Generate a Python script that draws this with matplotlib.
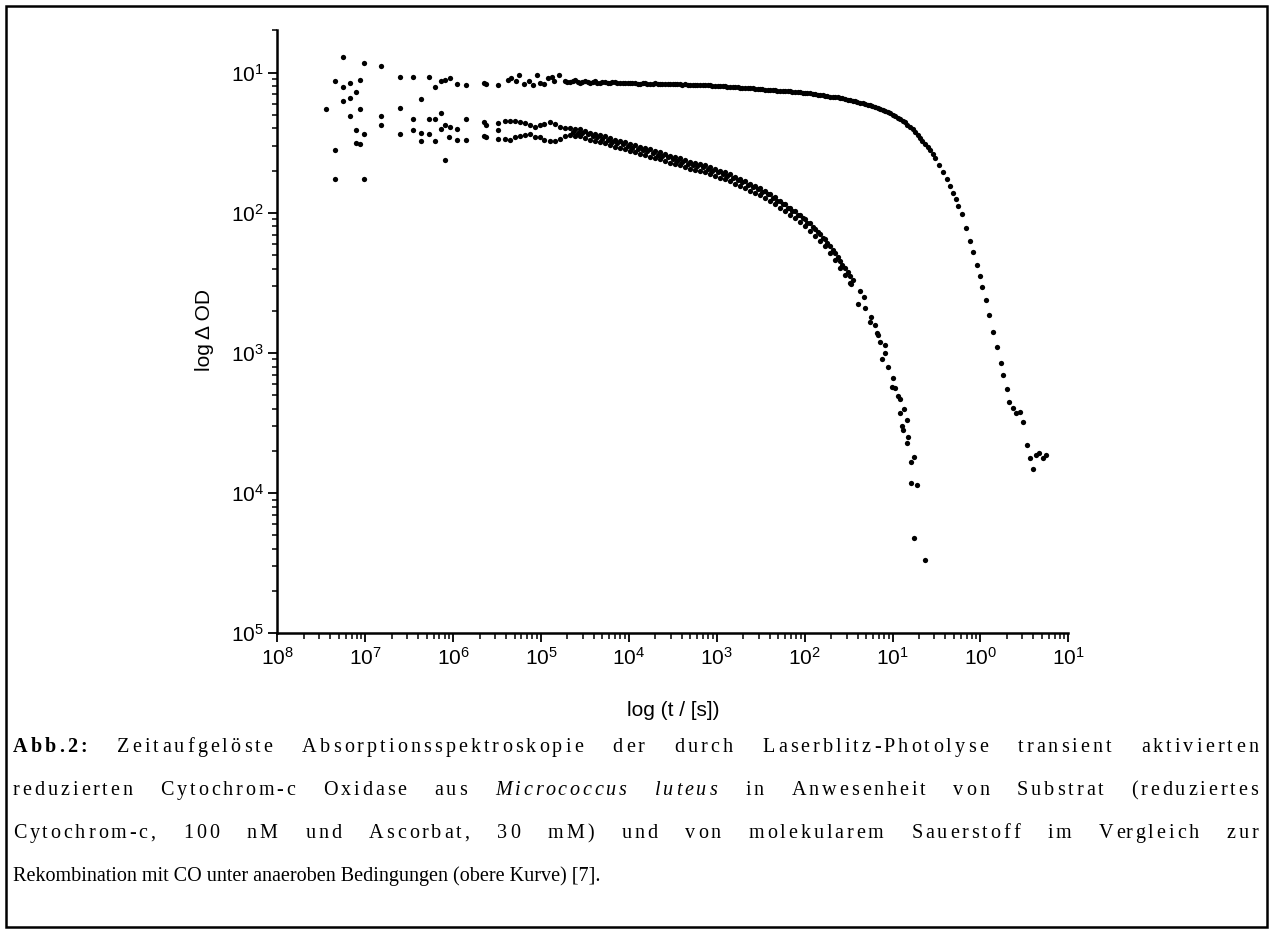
import numpy as np
import matplotlib
matplotlib.use('Agg')
import matplotlib.pyplot as plt
from matplotlib.ticker import FixedLocator, FixedFormatter, LogLocator, NullFormatter
from matplotlib.patches import Rectangle
from matplotlib.transforms import IdentityTransform
from matplotlib.font_manager import FontProperties

plt.rcParams['font.family'] = ['Liberation Sans', 'DejaVu Sans']
plt.rcParams['mathtext.fontset'] = 'custom'
plt.rcParams['mathtext.rm'] = 'Liberation Sans'
plt.rcParams['mathtext.it'] = 'Liberation Sans:italic'
plt.rcParams['mathtext.bf'] = 'Liberation Sans:bold'

# --- data (log10 t / s, log10 dOD) ---
# upper curve: CO recombination (anaerobic)
co_early_logt = [-7.34, -7.25, -7.25, -7.17, -7.06, -7.11, -7.25, -7.17, -7.01, -6.82,
                 -6.60, -6.46, -6.27, -6.20, -6.14, -6.09, -6.04, -5.95, -5.85, -5.65,
                 -5.63, -5.49, -5.37, -5.34, -5.28, -5.25, -5.19, -5.14, -5.09, -5.04,
                 -5.01, -4.97, -4.92, -4.88, -4.85, -4.79]
co_early_logod = [-1.06, -0.89, -1.10, -1.07, -1.05, -1.14, -1.20, -1.18, -0.93, -0.95,
                  -1.03, -1.03, -1.03, -1.10, -1.06, -1.05, -1.04, -1.08, -1.09, -1.07,
                  -1.08, -1.09, -1.05, -1.04, -1.06, -1.02, -1.08, -1.06, -1.09, -1.02,
                  -1.07, -1.08, -1.04, -1.03, -1.06, -1.02]
co_dense_logt = [-4.73, -4.67, -4.61, -4.56, -4.50, -4.44, -4.39, -4.33, -4.27, -4.22,
                 -4.16, -4.10, -4.04, -3.99, -3.93, -3.87, -3.82, -3.76, -3.70, -3.65,
                 -3.59, -3.53, -3.48, -3.42, -3.36, -3.30, -3.25, -3.19, -3.13, -3.08,
                 -3.02, -2.96, -2.91, -2.85, -2.79, -2.74, -2.68, -2.62, -2.56, -2.51,
                 -2.45, -2.39, -2.34, -2.28, -2.22, -2.17, -2.11, -2.05, -2.00, -1.94,
                 -1.88, -1.82, -1.77, -1.71, -1.65, -1.60, -1.54, -1.48, -1.43, -1.37,
                 -1.31, -1.26, -1.20, -1.14, -1.08, -1.03, -0.97, -0.91, -0.86, -0.80,
                 -0.74, -0.69, -0.63, -0.57, -0.52]
co_dense_logod = [-1.059, -1.066, -1.055, -1.073, -1.059, -1.070, -1.062, -1.073, -1.066, -1.073,
                  -1.066, -1.077, -1.070, -1.077, -1.073, -1.081, -1.073, -1.081, -1.077, -1.081,
                  -1.081, -1.084, -1.081, -1.084, -1.084, -1.088, -1.088, -1.088, -1.091, -1.091,
                  -1.095, -1.095, -1.098, -1.102, -1.102, -1.106, -1.109, -1.109, -1.113, -1.116,
                  -1.120, -1.123, -1.127, -1.131, -1.131, -1.134, -1.138, -1.141, -1.145, -1.148,
                  -1.152, -1.159, -1.163, -1.170, -1.173, -1.180, -1.188, -1.195, -1.202, -1.213,
                  -1.223, -1.234, -1.245, -1.259, -1.273, -1.291, -1.309, -1.330, -1.355, -1.384,
                  -1.420, -1.466, -1.509, -1.555, -1.609]
co_dense2_logt = [-4.70, -4.64, -4.58, -4.53, -4.47, -4.41, -4.36, -4.30, -4.24, -4.19,
                  -4.13, -4.07, -4.01, -3.96, -3.90, -3.84, -3.79, -3.73, -3.67, -3.62,
                  -3.56, -3.50, -3.45, -3.39, -3.33, -3.27, -3.22, -3.16, -3.10, -3.05,
                  -2.99, -2.93, -2.88, -2.82, -2.76, -2.71, -2.65, -2.59, -2.53, -2.48,
                  -2.42, -2.36, -2.31, -2.25, -2.19, -2.14, -2.08, -2.02, -1.97, -1.91,
                  -1.85, -1.79, -1.74, -1.68, -1.62, -1.57, -1.51, -1.45, -1.40, -1.34,
                  -1.28, -1.23, -1.17, -1.11, -1.05, -1.00, -0.94, -0.88, -0.83, -0.77,
                  -0.71, -0.66, -0.60, -0.54]
co_dense2_logod = [-1.068, -1.062, -1.066, -1.064, -1.068, -1.064, -1.070, -1.068, -1.071, -1.069,
                   -1.073, -1.072, -1.075, -1.075, -1.078, -1.076, -1.079, -1.080, -1.079, -1.082,
                   -1.082, -1.083, -1.084, -1.085, -1.086, -1.088, -1.088, -1.090, -1.091, -1.093,
                   -1.095, -1.097, -1.100, -1.102, -1.104, -1.108, -1.109, -1.111, -1.115, -1.118,
                   -1.122, -1.125, -1.129, -1.131, -1.133, -1.136, -1.140, -1.143, -1.147, -1.150,
                   -1.156, -1.161, -1.167, -1.172, -1.177, -1.184, -1.192, -1.199, -1.208, -1.218,
                   -1.229, -1.240, -1.252, -1.266, -1.282, -1.300, -1.320, -1.343, -1.370, -1.402,
                   -1.443, -1.488, -1.532, -1.582]
co_tail_logt = [-0.47, -0.42, -0.38, -0.35, -0.31, -0.28, -0.25, -0.21, -0.16, -0.12,
                -0.08, -0.04, 0.00, 0.02, 0.06, 0.10, 0.14, 0.19, 0.23, 0.26,
                0.30, 0.33, 0.37, 0.40, 0.45, 0.49, 0.53, 0.56, 0.60, 0.63,
                0.67, 0.71, 0.75]
co_tail_logod = [-1.66, -1.71, -1.76, -1.81, -1.86, -1.90, -1.95, -2.01, -2.11, -2.20,
                 -2.28, -2.37, -2.45, -2.53, -2.62, -2.73, -2.85, -2.96, -3.07, -3.16,
                 -3.26, -3.35, -3.39, -3.43, -3.42, -3.49, -3.66, -3.75, -3.83, -3.73,
                 -3.71, -3.75, -3.73]

# lower curve: turnover with substrate and O2
o2_early_logt = [-7.45, -7.06, -7.17, -7.11, -7.01, -7.11, -7.06, -7.34, -7.34, -7.01,
                 -6.82, -6.82, -6.60, -6.36, -6.60, -6.46, -6.46, -6.36, -6.36, -6.27,
                 -6.20, -6.27, -6.20, -6.14, -6.14, -6.09, -6.04, -6.05, -5.95, -5.95,
                 -5.85, -5.85, -6.09, -5.65, -5.63, -5.65, -5.63, -5.49, -5.49, -5.49]
o2_early_logod = [-1.26, -1.26, -1.31, -1.41, -1.44, -1.50, -1.51, -1.55, -1.76, -1.76,
                  -1.31, -1.37, -1.25, -1.19, -1.44, -1.33, -1.41, -1.43, -1.49, -1.33,
                  -1.33, -1.44, -1.49, -1.29, -1.40, -1.37, -1.39, -1.46, -1.40, -1.48,
                  -1.33, -1.48, -1.62, -1.35, -1.37, -1.45, -1.46, -1.36, -1.41, -1.47]
o2_band_logt = [-5.41, -5.35, -5.30, -5.24, -5.18, -5.13, -5.07, -5.01, -4.96, -4.90,
                -4.84, -4.78, -4.73, -4.67, -4.61, -4.56, -4.50, -4.44, -4.39, -4.33,
                -4.27, -4.22, -4.16, -4.10, -4.04, -3.99, -3.93, -3.87, -3.82, -3.76,
                -3.70, -3.65, -3.59, -3.53, -3.48, -3.42, -3.36, -3.30, -3.25, -3.19,
                -3.13, -3.08, -3.02, -2.96, -2.91, -2.85, -2.79, -2.74, -2.68, -2.62,
                -2.56, -2.51, -2.45, -2.39, -2.34, -2.28, -2.22, -2.17, -2.11, -2.05,
                -2.00, -1.94, -1.88, -1.82, -1.77, -1.71, -1.65, -1.60, -1.54, -1.48]
o2_band_hi_logod = [-1.345, -1.345, -1.348, -1.352, -1.359, -1.373, -1.387, -1.373, -1.366, -1.352,
                    -1.366, -1.387, -1.395, -1.398, -1.402, -1.405, -1.416, -1.427, -1.434, -1.445,
                    -1.455, -1.466, -1.477, -1.487, -1.498, -1.509, -1.519, -1.530, -1.537, -1.548,
                    -1.559, -1.569, -1.580, -1.591, -1.602, -1.612, -1.623, -1.634, -1.641, -1.651,
                    -1.662, -1.673, -1.684, -1.698, -1.712, -1.726, -1.741, -1.755, -1.773, -1.791,
                    -1.808, -1.826, -1.844, -1.866, -1.887, -1.912, -1.937, -1.962, -1.987, -2.015,
                    -2.044, -2.076, -2.112, -2.151, -2.190, -2.240, -2.290, -2.347, -2.397, -2.454]
o2_band_lo_logod = [-1.473, -1.480, -1.459, -1.452, -1.445, -1.437, -1.459, -1.459, -1.480, -1.487,
                    -1.487, -1.473, -1.452, -1.448, -1.452, -1.455, -1.466, -1.477, -1.484, -1.494,
                    -1.505, -1.516, -1.527, -1.537, -1.548, -1.559, -1.569, -1.580, -1.587, -1.598,
                    -1.609, -1.619, -1.630, -1.641, -1.651, -1.662, -1.673, -1.684, -1.691, -1.701,
                    -1.712, -1.723, -1.734, -1.748, -1.762, -1.776, -1.791, -1.805, -1.823, -1.841,
                    -1.858, -1.876, -1.894, -1.915, -1.937, -1.962, -1.987, -2.012, -2.037, -2.065,
                    -2.094, -2.126, -2.162, -2.201, -2.240, -2.290, -2.340, -2.397, -2.447, -2.504]
o2_mid_logt = [-4.64, -4.58, -4.53, -4.47, -4.41, -4.36, -4.30, -4.24, -4.19, -4.13,
               -4.07, -4.01, -3.96, -3.90, -3.84, -3.79, -3.73, -3.67, -3.62, -3.56,
               -3.50, -3.45, -3.39, -3.33, -3.27, -3.22, -3.16, -3.10, -3.05, -2.99,
               -2.93, -2.88, -2.82, -2.76, -2.71, -2.65, -2.59, -2.53, -2.48, -2.42,
               -2.36, -2.31, -2.25, -2.19, -2.14, -2.08, -2.02, -1.97, -1.91, -1.85,
               -1.79, -1.74, -1.68, -1.62, -1.57, -1.51, -1.45]
o2_mid_logod = [-1.423, -1.427, -1.430, -1.441, -1.452, -1.459, -1.470, -1.480, -1.491, -1.502,
                -1.512, -1.523, -1.534, -1.544, -1.555, -1.562, -1.573, -1.584, -1.594, -1.605,
                -1.616, -1.627, -1.637, -1.648, -1.659, -1.666, -1.676, -1.687, -1.698, -1.709,
                -1.723, -1.737, -1.751, -1.766, -1.780, -1.798, -1.816, -1.833, -1.851, -1.869,
                -1.891, -1.912, -1.937, -1.962, -1.987, -2.012, -2.040, -2.069, -2.101, -2.137,
                -2.176, -2.215, -2.265, -2.315, -2.372, -2.422, -2.479]
o2_tail_logt = [-1.47, -1.37, -1.33, -1.39, -1.31, -1.24, -1.26, -1.20, -1.18, -1.16,
                -1.14, -1.09, -1.08, -1.12, -1.05, -1.00, -1.01, -0.97, -0.94, -0.92,
                -0.87, -0.92, -0.84, -0.89, -0.88, -0.82, -0.84, -0.76, -0.79, -0.79,
                -0.72, -0.75, -0.63]
o2_tail_logod = [-2.51, -2.56, -2.60, -2.65, -2.68, -2.74, -2.78, -2.80, -2.86, -2.87,
                 -2.92, -2.94, -3.00, -3.04, -3.10, -3.18, -3.24, -3.25, -3.31, -3.33,
                 -3.40, -3.43, -3.48, -3.52, -3.55, -3.60, -3.64, -3.74, -3.78, -3.93,
                 -3.94, -4.32, -4.48]

# axis ticks as printed in the original (minus signs were lost there)
x_ticks = [1e-8, 1e-7, 1e-6, 1e-5, 1e-4, 1e-3, 1e-2, 1e-1, 1e0, 1e1]
x_ticklabels = ['$10^{8}$', '$10^{7}$', '$10^{6}$', '$10^{5}$', '$10^{4}$',
                '$10^{3}$', '$10^{2}$', '$10^{1}$', '$10^{0}$', '$10^{1}$']
y_ticks = [1e-1, 1e-2, 1e-3, 1e-4, 1e-5]
y_ticklabels = ['$10^{1}$', '$10^{2}$', '$10^{3}$', '$10^{4}$', '$10^{5}$']

caption_lines = [
    [('Abb.2:', 'b'), ('Zeitaufgelöste', 'n'), ('Absorptionsspektroskopie', 'n'), ('der', 'n'),
     ('durch', 'n'), ('Laserblitz-Photolyse', 'n'), ('transient', 'n'), ('aktivierten', 'n')],
    [('reduzierten', 'n'), ('Cytochrom-c', 'n'), ('Oxidase', 'n'), ('aus', 'n'),
     ('Micrococcus', 'i'), ('luteus', 'i'), ('in', 'n'), ('Anwesenheit', 'n'), ('von', 'n'),
     ('Substrat', 'n'), ('(reduziertes', 'n')],
    [('Cytochrom-c,', 'n'), ('100', 'n'), ('nM', 'n'), ('und', 'n'), ('Ascorbat,', 'n'),
     ('30', 'n'), ('mM)', 'n'), ('und', 'n'), ('von', 'n'), ('molekularem', 'n'),
     ('Sauerstoff', 'n'), ('im', 'n'), ('Vergleich', 'n'), ('zur', 'n')],
]
caption_last = 'Rekombination mit CO unter anaeroben Bedingungen (obere Kurve) [7].'

W, H = 1273, 932
fig = plt.figure(figsize=(W / 100, H / 100), dpi=100)
ax = fig.add_axes([277.3 / W, (H - 633.3) / H, 791.0 / W, 602.8 / H])

dot = dict(linestyle='none', marker='o', ms=3.8, color='black', mec='none')
series = [(co_early_logt, co_early_logod), (co_dense_logt, co_dense_logod),
          (co_dense2_logt, co_dense2_logod), (co_tail_logt, co_tail_logod),
          (o2_early_logt, o2_early_logod), (o2_band_logt, o2_band_hi_logod),
          (o2_band_logt, o2_band_lo_logod), (o2_mid_logt, o2_mid_logod),
          (o2_tail_logt, o2_tail_logod)]
for lt, lod in series:
    ax.plot(10 ** np.array(lt), 10 ** np.array(lod), **dot)

ax.set_xscale('log')
ax.set_yscale('log')
ax.set_xlim(1e-8, 1e1)
ax.set_ylim(1e-5, 0.2)

ax.xaxis.set_major_locator(FixedLocator(x_ticks))
ax.xaxis.set_major_formatter(FixedFormatter(x_ticklabels))
ax.yaxis.set_major_locator(FixedLocator(y_ticks))
ax.yaxis.set_major_formatter(FixedFormatter(y_ticklabels))
for axis in (ax.xaxis, ax.yaxis):
    axis.set_minor_locator(LogLocator(base=10, subs=np.arange(2, 10), numticks=100))
    axis.set_minor_formatter(NullFormatter())

for side in ('top', 'right'):
    ax.spines[side].set_visible(False)
for side in ('left', 'bottom'):
    ax.spines[side].set_linewidth(1.8)

ax.tick_params(axis='both', which='major', direction='out', width=1.3, length=6.5,
               labelsize=15, pad=3)
ax.tick_params(axis='both', which='minor', direction='out', width=1.1, length=3.5)
ax.tick_params(axis='x', which='minor', length=4.5)

# axis titles
fig.text(205, H - 330, 'log\u2009\u0394 OD', rotation=90, fontsize=15, ha='center', va='center',
         transform=IdentityTransform())
fig.text(673, H - 710, 'log (t / [s])', fontsize=15, ha='center', va='center',
         transform=IdentityTransform())

# caption: justified lines, extra room shared by word gaps and (a little) letter gaps
cap_fs = 14.5
word_weight = 8
x0, x1 = 13, 1258
baselines = [752, 795, 838, 881]
renderer = fig.canvas.get_renderer()
props = {
    'n': FontProperties(family='Liberation Serif', size=cap_fs),
    'b': FontProperties(family='Liberation Serif', size=cap_fs, weight='bold'),
    'i': FontProperties(family='Liberation Serif', size=cap_fs, style='italic'),
}


def text_w(s, prop):
    return renderer.get_text_width_height_descent(s, prop, ismath=False)[0]


space_w = text_w('a a', props['n']) - text_w('aa', props['n'])
for tokens, yb in zip(caption_lines, baselines):
    word_w = [text_w(w, props[st]) for w, st in tokens]
    n_char_gaps = sum(len(w) - 1 for w, _ in tokens)
    n_word_gaps = len(tokens) - 1
    extra = (x1 - x0 - sum(word_w) - n_word_gaps * space_w) / (n_char_gaps + word_weight * n_word_gaps)
    xpos = x0
    for (word, st), ww in zip(tokens, word_w):
        for k, ch in enumerate(word):
            off = text_w(word[:k], props[st]) if k else 0.0
            fig.text(xpos + off + k * extra, H - yb, ch, fontproperties=props[st],
                     va='baseline', ha='left', transform=IdentityTransform())
        xpos += ww + (len(word) - 1) * extra + space_w + word_weight * extra
fig.text(x0, H - baselines[3], caption_last, fontproperties=props['n'],
         va='baseline', ha='left', transform=IdentityTransform())

# outer frame
fig.patches.append(Rectangle((6, 5), 1261, 921, fill=False, lw=1.8, edgecolor='black',
                             transform=IdentityTransform()))

fig.savefig('out.png', dpi=100)
